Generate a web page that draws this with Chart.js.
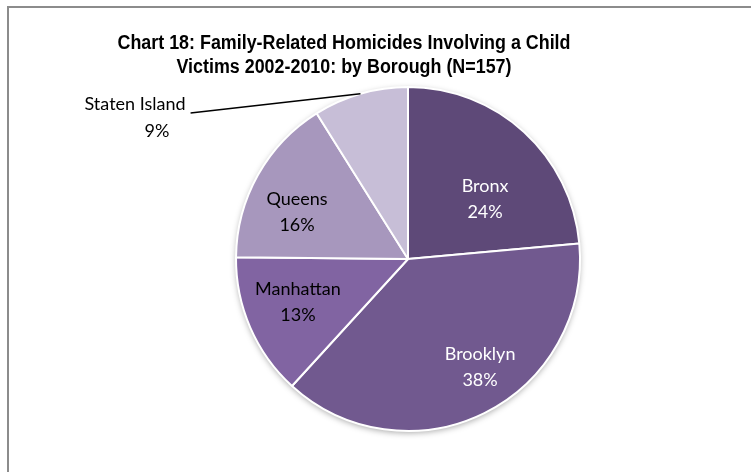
<!DOCTYPE html>
<html>
<head>
<meta charset="utf-8">
<script src="https://cdn.jsdelivr.net/npm/chart.js@4"></script>
<style>
  html, body { margin: 0; padding: 0; background: #fff; }
  #wrap { position: relative; width: 751px; height: 472px; }
  #frame { position: absolute; left: 7px; top: 6px; right: 0; bottom: 0;
           border-left: 2px solid #8c8c8c; border-top: 2px solid #8c8c8c; }
  canvas { position: absolute; left: 0; top: 0; }
</style>
</head>
<body>
<div id="wrap">
  <div id="frame"></div>
  <canvas id="pieChart" width="751" height="472"></canvas>
</div>
<script>
// data
var titleLines = ["Chart 18: Family-Related Homicides Involving a Child",
                  "Victims 2002-2010: by Borough (N=157)"]
var boroughs = ["Bronx", "Brooklyn", "Manhattan", "Queens", "Staten Island"]
var victims = [37, 60, 21, 25, 14]
var total = 157

var colors = ["#5e4978", "#71598f", "#8164a2", "#a797bd", "#c7bed7"]
var textColors = ["#ffffff", "#ffffff", "#000000", "#000000", "#000000"]
// label centre, in pie radii from the centre
var labelPos = [[0.448, -0.349], [0.419, 0.628], [-0.64, 0.25], [-0.645, -0.273], [-1.587, -0.826]]

var labelPlugin = {
    id: 'labels',
    afterDatasetsDraw: function(chart){
        var ctx = chart.ctx
        var meta = chart.getDatasetMeta(0)
        var arc0 = meta.data[0]
        var cx = arc0.x, cy = arc0.y, r = arc0.outerRadius

        ctx.save()
        ctx.textAlign = 'center'
        ctx.textBaseline = 'middle'
        ctx.font = '18px Lato, "Open Sans", sans-serif'
        for(var i=0; i<boroughs.length; i++){
            var lx = cx + labelPos[i][0]*r
            var ly = cy + labelPos[i][1]*r
            var pct = Math.round(victims[i]/total*100) + '%'
            ctx.fillStyle = textColors[i]
            ctx.fillText(boroughs[i], lx, ly - 13)

            if(i == boroughs.length-1){
                // outside label: percent sits a bit right, leader line to the slice
                var a = meta.data[i]
                var mid = (a.startAngle + a.endAngle)/2
                var w = ctx.measureText(boroughs[i]).width
                ctx.fillText(pct, lx + 22, ly + 14)
                ctx.strokeStyle = '#000'
                ctx.lineWidth = 1.5
                ctx.beginPath()
                ctx.moveTo(lx + w/2 + 5, ly - 4)
                ctx.lineTo(cx + Math.cos(mid)*r, cy + Math.sin(mid)*r)
                ctx.stroke()
            } else {
                ctx.fillText(pct, lx, ly + 13)
            }
        }

        // title
        ctx.fillStyle = '#000'
        ctx.font = 'bold 20px "Liberation Sans", Arial, sans-serif'
        var sx = 453 / ctx.measureText(titleLines[0]).width
        for(var j=0; j<titleLines.length; j++){
            ctx.save()
            ctx.translate(344, 43 + j*24)
            ctx.scale(sx, 1)
            ctx.fillText(titleLines[j], 0, 0)
            ctx.restore()
        }
        ctx.restore()
    }
}

var shadowPlugin = {
    id: 'pieShadow',
    beforeDatasetsDraw: function(chart){
        var arc0 = chart.getDatasetMeta(0).data[0]
        var ctx = chart.ctx
        ctx.save()
        ctx.shadowColor = 'rgba(0,0,0,0.35)'
        ctx.shadowBlur = 6
        ctx.shadowOffsetY = 2
        ctx.fillStyle = '#fff'
        ctx.beginPath()
        ctx.arc(arc0.x, arc0.y, arc0.outerRadius, 0, Math.PI*2)
        ctx.fill()
        ctx.restore()
    }
}

var ctx = document.getElementById('pieChart').getContext('2d')
var chart = new Chart(ctx, {
    type: 'pie',
    data: {
        labels: boroughs,
        datasets: [{
            data: victims,
            backgroundColor: colors,
            borderColor: '#ffffff',
            borderWidth: 2
        }]
    },
    options: {
        responsive: false,
        animation: false,
        layout: { padding: { top: 86, bottom: 40, left: 235, right: 170 } },
        plugins: {
            legend: { display: false },
            tooltip: { enabled: false },
            title: { display: false }
        }
    },
    plugins: [shadowPlugin, labelPlugin]
})
</script>
</body>
</html>
